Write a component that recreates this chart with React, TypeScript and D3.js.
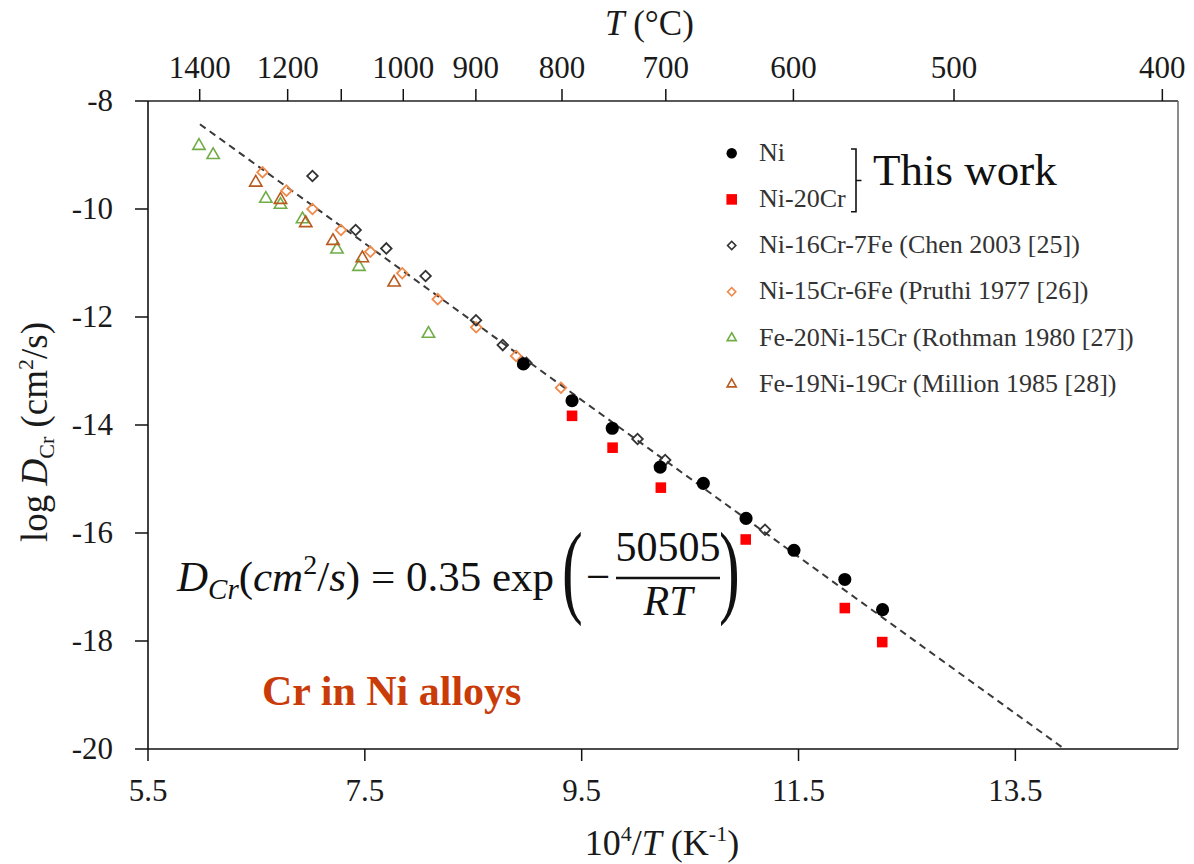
import React from "react";
import * as d3 from "d3";

// ---- data ----
const niX = [8.962, 9.411, 9.782, 10.224, 10.622, 11.016, 11.458, 11.927, 12.275];
const niY = [-12.87, -13.55, -14.06, -14.78, -15.08, -15.73, -16.32, -16.86, -17.42];

const ni20CrX = [9.411, 9.785, 10.23, 11.013, 11.927, 12.272];
const ni20CrY = [-13.83, -14.42, -15.16, -16.12, -17.39, -18.02];

const chenX = [7.017, 7.415, 7.698, 8.06, 8.525, 8.772, 8.99, 10.015, 10.27, 11.191];
const chenY = [-9.39, -10.39, -10.73, -11.24, -12.06, -12.52, -12.85, -14.26, -14.65, -15.94];

const pruthiX = [6.556, 6.777, 7.017, 7.28, 7.551, 7.845, 8.172, 8.527, 8.895, 9.309];
const pruthiY = [-9.32, -9.66, -10.0, -10.39, -10.79, -11.19, -11.67, -12.19, -12.72, -13.31];

const rothmanX = [5.97, 6.101, 6.587, 6.722, 6.925, 7.243, 7.446, 8.087];
const rothmanY = [-8.83, -9.0, -9.81, -9.92, -10.19, -10.75, -11.07, -12.31];

const millionX = [6.494, 6.722, 6.955, 7.206, 7.477, 7.77];
const millionY = [-9.51, -9.83, -10.26, -10.59, -10.91, -11.36];

const fitX = [5.979, 13.953];
const fitY = [-8.43, -20];

const bottomTicks = [5.5, 7.5, 9.5, 11.5, 13.5];
const leftTicks = [-8, -10, -12, -14, -16, -18, -20];
const topTempsC = [1400, 1200, 1100, 1000, 900, 800, 700, 600, 500, 400];
const topLabeled = [1400, 1200, 1000, 900, 800, 700, 600, 500, 400];

const legendLabels = [
  "Ni",
  "Ni-20Cr",
  "Ni-16Cr-7Fe (Chen 2003 [25])",
  "Ni-15Cr-6Fe (Pruthi 1977 [26])",
  "Fe-20Ni-15Cr (Rothman 1980 [27])",
  "Fe-19Ni-19Cr (Million 1985 [28])",
];

// ---- layout ----
const W = 1194;
const H = 864;
const X0 = 148;
const X1 = 1178;
const Y0 = 101;
const Y1 = 749;
const FONT = "'Liberation Serif', 'Times New Roman', serif";

const xScale = d3.scaleLinear().domain([5.5, 15]).range([X0, X1]);
const yScale = d3.scaleLinear().domain([-20, -8]).range([Y1, Y0]);

const circlePath = d3.symbol().type(d3.symbolCircle).size(135)()!;
const squarePath = d3.symbol().type(d3.symbolSquare).size(112)()!;
const diamondPath = d3.symbol().type(d3.symbolSquare).size(56)()!;
const trianglePath = d3.symbol().type(d3.symbolTriangle).size(66)()!;

const lgCircle = d3.symbol().type(d3.symbolCircle).size(85)()!;
const lgSquare = d3.symbol().type(d3.symbolSquare).size(112)()!;
const lgDiamond = d3.symbol().type(d3.symbolSquare).size(34)()!;
const lgTriangle = d3.symbol().type(d3.symbolTriangle).size(36)()!;

type Series = {
  xs: number[];
  ys: number[];
  path: string;
  lg: string;
  fill: string;
  stroke: string;
  rotate: number;
  sw: number;
};

const series: Series[] = [
  { xs: niX, ys: niY, path: circlePath, lg: lgCircle, fill: "#000", stroke: "none", rotate: 0, sw: 0 },
  { xs: ni20CrX, ys: ni20CrY, path: squarePath, lg: lgSquare, fill: "#ff0000", stroke: "none", rotate: 0, sw: 0 },
  { xs: chenX, ys: chenY, path: diamondPath, lg: lgDiamond, fill: "none", stroke: "#333", rotate: 45, sw: 1.8 },
  { xs: pruthiX, ys: pruthiY, path: diamondPath, lg: lgDiamond, fill: "none", stroke: "#f08a4b", rotate: 45, sw: 1.8 },
  { xs: rothmanX, ys: rothmanY, path: trianglePath, lg: lgTriangle, fill: "none", stroke: "#70ad47", rotate: 0, sw: 1.6 },
  { xs: millionX, ys: millionY, path: trianglePath, lg: lgTriangle, fill: "none", stroke: "#b85a1e", rotate: 0, sw: 1.6 },
];

const drawOrder = [4, 5, 3, 2, 0, 1];

export default function App() {
  const fitLine = d3
    .line<number>()
    .x((_, i) => xScale(fitX[i]))
    .y((_, i) => yScale(fitY[i]))(fitX)!;

  const legendX = 731.7;
  const legendBase = 160.7;
  const legendStep = 46.2;

  return (
    <svg
      width={W}
      height={H}
      style={{ position: "absolute", left: 0, top: 0, background: "#fff" }}
      fontFamily={FONT}
    >
      <rect x={0} y={0} width={W} height={H} fill="#fff" />

      {/* fit line */}
      <path d={fitLine} fill="none" stroke="#3a3a3a" strokeWidth={2} strokeDasharray="7,5" />

      {/* data */}
      {drawOrder.map((si) => {
        const s = series[si];
        return (
          <g key={si}>
            {s.xs.map((xv, i) => (
              <path
                key={i}
                d={s.path}
                transform={`translate(${xScale(xv)},${yScale(s.ys[i])}) rotate(${s.rotate})`}
                fill={s.fill}
                stroke={s.stroke}
                strokeWidth={s.sw}
              />
            ))}
          </g>
        );
      })}

      {/* frame */}
      <line x1={X0} y1={Y0} x2={X1} y2={Y0} stroke="#222" strokeWidth={1.5} />
      <line x1={X1} y1={Y0} x2={X1} y2={Y1} stroke="#666" strokeWidth={1.5} />
      <line x1={X0} y1={Y0} x2={X0} y2={Y1} stroke="#111" strokeWidth={1.6} />
      <line x1={X0} y1={Y1} x2={X1} y2={Y1} stroke="#111" strokeWidth={1.6} />

      {/* left axis */}
      {leftTicks.map((t) => (
        <g key={t}>
          <line x1={X0 - 13} x2={X0} y1={yScale(t)} y2={yScale(t)} stroke="#111" strokeWidth={1.5} />
          <text x={113} y={yScale(t) + 10} textAnchor="end" fontSize={31} fill="#1a1a1a">
            {String(t)}
          </text>
        </g>
      ))}

      {/* bottom axis */}
      {bottomTicks.map((t) => (
        <g key={t}>
          <line x1={xScale(t)} x2={xScale(t)} y1={Y1} y2={Y1 + 12} stroke="#111" strokeWidth={1.5} />
          <text x={xScale(t)} y={801} textAnchor="middle" fontSize={31} fill="#1a1a1a">
            {String(t)}
          </text>
        </g>
      ))}

      {/* top axis (temperature in °C) */}
      {topTempsC.map((c) => {
        const px = xScale(1e4 / (c + 273.15));
        return (
          <g key={c}>
            <line x1={px} x2={px} y1={Y0} y2={Y0 - 12} stroke="#111" strokeWidth={1.5} />
            {topLabeled.includes(c) ? (
              <text x={px} y={78} textAnchor="middle" fontSize={31} fill="#1a1a1a">
                {String(c)}
              </text>
            ) : null}
          </g>
        );
      })}

      {/* axis titles */}
      <text x={605} y={35} fontSize={35} fill="#1a1a1a">
        <tspan fontStyle="italic">T</tspan>
        <tspan> (°C)</tspan>
      </text>
      <text x={662} y={855} textAnchor="middle" fontSize={36} fill="#1a1a1a">
        <tspan>10</tspan>
        <tspan fontSize={22} dy={-14}>4</tspan>
        <tspan dy={14}>/</tspan>
        <tspan fontStyle="italic">T</tspan>
        <tspan> (K</tspan>
        <tspan fontSize={22} dy={-14}>-1</tspan>
        <tspan dy={14}>)</tspan>
      </text>
      <text transform="translate(47,432) rotate(-90)" textAnchor="middle" fontSize={37} fill="#1a1a1a">
        <tspan>log </tspan>
        <tspan fontStyle="italic">D</tspan>
        <tspan fontSize={22} dy={7}>Cr</tspan>
        <tspan dy={-7}> (cm</tspan>
        <tspan fontSize={22} dy={-14}>2</tspan>
        <tspan dy={14}>/s)</tspan>
      </text>

      {/* legend */}
      {series.map((s, i) => {
        const base = legendBase + i * legendStep;
        return (
          <g key={i}>
            <path
              d={s.lg}
              transform={`translate(${legendX},${base - 7.5}) rotate(${s.rotate})`}
              fill={s.fill}
              stroke={s.stroke}
              strokeWidth={s.sw ? 1.6 : 0}
            />
            <text x={759} y={base} fontSize={26} fill="#333">
              {legendLabels[i]}
            </text>
          </g>
        );
      })}
      <path d="M851,149 L856,149 L856,211.7 L851,211.7 M856,180.5 L861.5,180.5" fill="none" stroke="#111" strokeWidth={1.6} />
      <text x={873} y={185} fontSize={45} fill="#111">This work</text>

      {/* equation */}
      <text x={177} y={591} fontSize={43} fill="#111">
        <tspan fontStyle="italic">D</tspan>
        <tspan fontStyle="italic" fontSize={29} dy={8}>Cr</tspan>
        <tspan dy={-8}>(</tspan>
        <tspan fontStyle="italic">cm</tspan>
        <tspan fontSize={28} dy={-17}>2</tspan>
        <tspan dy={17}>/</tspan>
        <tspan fontStyle="italic">s</tspan>
        <tspan>) = 0.35 exp</tspan>
      </text>
      <text transform="translate(562,604) scale(0.6,1)" fontSize={104} fill="#111">(</text>
      <text x={586} y={591} fontSize={43} fill="#111">−</text>
      <text x={668} y={561} textAnchor="middle" fontSize={42} fill="#111">50505</text>
      <line x1={616} x2={720} y1={578} y2={578} stroke="#111" strokeWidth={2.5} />
      <text x={668} y={615} textAnchor="middle" fontSize={42} fontStyle="italic" fill="#111">RT</text>
      <text transform="translate(719,604) scale(0.6,1)" fontSize={104} fill="#111">)</text>

      {/* annotation */}
      <text x={262} y={705} fontSize={42} fontWeight="bold" fill="#c93c0a">Cr in Ni alloys</text>
    </svg>
  );
}
